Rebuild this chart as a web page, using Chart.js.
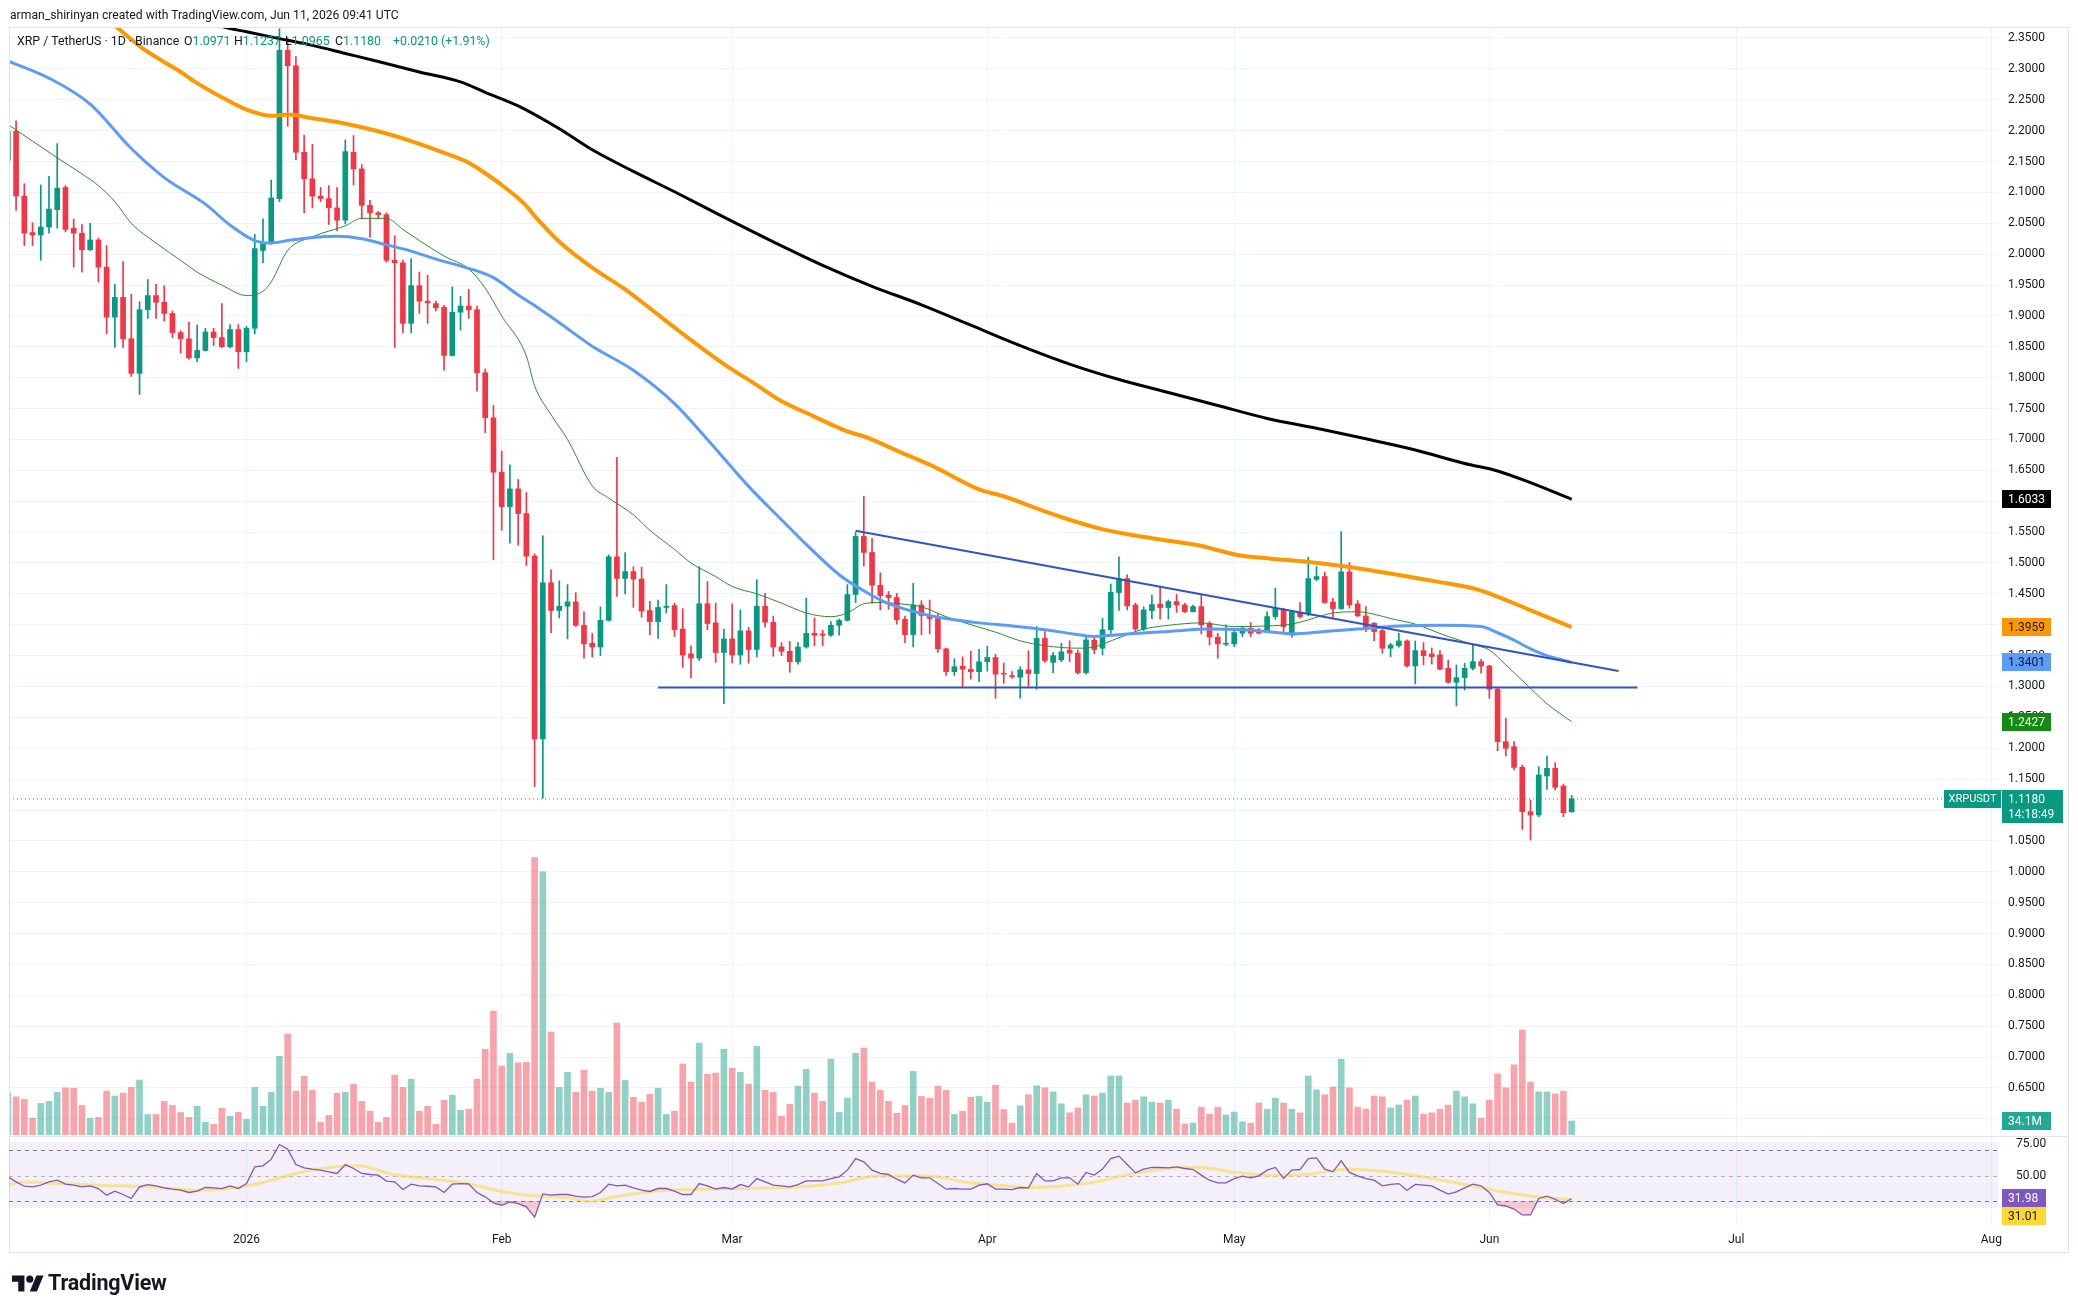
<!DOCTYPE html>
<html>
<head>
<meta charset="utf-8">
<script src="https://cdn.jsdelivr.net/npm/chart.js"></script>
<style>
  html, body { margin: 0; padding: 0; background: #fff; }
  #wrap { position: relative; width: 2078px; height: 1314px; overflow: hidden; font-family: Roboto, "Noto Sans", sans-serif; color: #131722; }
  canvas { position: absolute; left: 0; top: 0; }
  .txt { position: absolute; white-space: nowrap; transform-origin: 0 0; }
  .lg { font-size: 13px; transform: scaleX(0.95); top: 33px; }
  .g { color: #089981; }
</style>
</head>
<body>
<div id="wrap">
  <canvas id="price" width="2078" height="1314"></canvas>
  <canvas id="rsi" width="2078" height="1314"></canvas>

  <div class="txt" style="left:10px;top:7px;font-size:13px;transform:scaleX(0.935)">arman_shirinyan created with TradingView.com, Jun 11, 2026 09:41 UTC</div>
  <div class="txt lg" style="left:17px">XRP / TetherUS · 1D · Binance</div>
  <div class="txt lg" style="left:184px">O<span class="g">1.0971</span></div>
  <div class="txt lg" style="left:234px">H<span class="g">1.1237</span></div>
  <div class="txt lg" style="left:285px">L<span class="g">1.0965</span></div>
  <div class="txt lg" style="left:335px">C<span class="g">1.1180</span></div>
  <div class="txt lg g" style="left:393px">+0.0210 (+1.91%)</div>

  <svg style="position:absolute;left:12px;top:1272px" width="32" height="25" viewBox="0 0 36 28">
    <path d="M14 22H7V11H0V4h14v18zM28 22h-8l7.5-18h8L28 22z" fill="#131722"/>
    <circle cx="20" cy="8" r="4" fill="#131722"/>
  </svg>
  <div class="txt" style="left:48px;top:1270px;font-size:21.5px;font-weight:bold;letter-spacing:-0.2px">TradingView</div>
</div>

<script>
// day index: 0 = 1 Jan 2026, first candle = 3 Dec 2025
const firstDay = -29;

// [open, high, low, close]
const candles = [
  [2.152,2.218,2.142,2.199],[2.199,2.216,2.071,2.094],[2.094,2.114,2.014,2.034],[2.035,2.051,2.014,2.031],
  [2.031,2.112,1.990,2.044],[2.044,2.126,2.034,2.073],[2.072,2.179,2.042,2.107],[2.108,2.111,2.036,2.040],
  [2.042,2.057,1.979,2.034],[2.034,2.048,1.971,2.007],[2.007,2.050,2.006,2.023],[2.023,2.026,1.955,1.979],
  [1.979,2.014,1.871,1.898],[1.898,1.951,1.849,1.930],[1.930,1.988,1.849,1.863],[1.863,1.935,1.802,1.807],
  [1.807,1.923,1.773,1.910],[1.910,1.959,1.896,1.933],[1.933,1.951,1.896,1.922],[1.922,1.949,1.892,1.904],
  [1.904,1.908,1.865,1.873],[1.873,1.876,1.840,1.863],[1.863,1.890,1.830,1.832],[1.832,1.885,1.826,1.844],
  [1.844,1.880,1.843,1.874],[1.874,1.880,1.852,1.865],[1.865,1.920,1.849,1.850],[1.850,1.886,1.848,1.878],
  [1.878,1.886,1.815,1.842],[1.842,1.883,1.826,1.880],
  // January
  [1.880,2.032,1.871,2.009],[2.006,2.057,1.986,2.018],[2.018,2.120,2.016,2.091],[2.090,2.365,2.085,2.330],
  [2.330,2.350,2.207,2.305],[2.305,2.320,2.153,2.165],[2.165,2.193,2.067,2.122],[2.122,2.178,2.075,2.094],
  [2.094,2.108,2.085,2.090],[2.090,2.111,2.048,2.075],[2.075,2.108,2.038,2.055],[2.055,2.185,2.049,2.166],
  [2.165,2.192,2.112,2.138],[2.138,2.145,2.057,2.079],[2.079,2.087,2.027,2.067],[2.067,2.069,2.057,2.064],
  [2.064,2.067,1.987,1.990],[1.990,2.030,1.849,1.986],[1.986,1.990,1.873,1.888],[1.888,1.993,1.873,1.949],
  [1.949,1.971,1.904,1.924],[1.924,1.966,1.888,1.921],[1.920,1.924,1.908,1.913],[1.914,1.917,1.812,1.836],
  [1.836,1.947,1.835,1.906],[1.906,1.932,1.877,1.916],[1.916,1.943,1.896,1.910],[1.910,1.916,1.778,1.808],
  [1.808,1.814,1.711,1.735],[1.735,1.755,1.505,1.647],
  // February
  [1.647,1.681,1.553,1.591],[1.591,1.659,1.532,1.620],[1.620,1.635,1.529,1.580],[1.580,1.614,1.496,1.511],
  [1.511,1.515,1.138,1.215],[1.215,1.544,1.119,1.468],[1.468,1.489,1.387,1.423],[1.423,1.471,1.411,1.430],
  [1.430,1.465,1.377,1.437],[1.437,1.452,1.397,1.399],[1.399,1.421,1.346,1.369],[1.370,1.386,1.348,1.364],
  [1.364,1.429,1.350,1.407],[1.407,1.513,1.406,1.510],[1.510,1.671,1.446,1.475],[1.475,1.517,1.450,1.486],
  [1.486,1.494,1.428,1.474],[1.474,1.493,1.412,1.422],[1.423,1.438,1.384,1.405],[1.405,1.440,1.378,1.428],
  [1.428,1.465,1.419,1.430],[1.431,1.435,1.381,1.392],[1.393,1.426,1.331,1.351],[1.353,1.366,1.314,1.346],
  [1.346,1.494,1.342,1.434],[1.434,1.470,1.392,1.402],[1.403,1.435,1.339,1.355],[1.355,1.393,1.272,1.377],
  // March
  [1.377,1.434,1.338,1.351],[1.351,1.424,1.336,1.390],[1.390,1.396,1.338,1.360],[1.360,1.473,1.348,1.430],
  [1.430,1.451,1.396,1.404],[1.404,1.414,1.349,1.364],[1.364,1.371,1.350,1.357],[1.357,1.373,1.323,1.340],
  [1.340,1.371,1.336,1.364],[1.364,1.443,1.362,1.386],[1.386,1.411,1.366,1.383],[1.385,1.391,1.366,1.383],
  [1.383,1.405,1.381,1.399],[1.399,1.409,1.383,1.407],[1.407,1.465,1.406,1.449],[1.449,1.550,1.436,1.543],
  [1.543,1.608,1.495,1.517],[1.517,1.540,1.435,1.464],[1.464,1.484,1.424,1.447],[1.448,1.454,1.425,1.444],
  [1.444,1.451,1.401,1.408],[1.409,1.414,1.371,1.384],[1.384,1.467,1.364,1.432],[1.432,1.439,1.384,1.415],
  [1.415,1.440,1.385,1.410],[1.410,1.418,1.355,1.361],[1.361,1.362,1.318,1.324],[1.324,1.345,1.318,1.332],
  [1.333,1.348,1.298,1.328],[1.328,1.357,1.312,1.324],[1.324,1.360,1.308,1.340],
  // April
  [1.340,1.365,1.325,1.347],[1.347,1.352,1.281,1.320],[1.3205,1.338,1.305,1.3200],[1.3176,1.324,1.313,1.3160],
  [1.315,1.332,1.281,1.327],[1.327,1.358,1.300,1.321],[1.321,1.397,1.2955,1.378],[1.378,1.389,1.339,1.342],
  [1.339,1.355,1.3225,1.350],[1.343,1.370,1.340,1.356],[1.359,1.374,1.340,1.354],[1.354,1.359,1.320,1.3225],
  [1.3225,1.380,1.320,1.3754],[1.375,1.381,1.353,1.360],[1.362,1.4105,1.351,1.392],[1.392,1.466,1.386,1.4526],
  [1.4521,1.510,1.423,1.4747],[1.4747,1.481,1.424,1.4305],[1.432,1.435,1.3905,1.393],[1.393,1.429,1.3905,1.424],
  [1.423,1.448,1.410,1.4326],[1.4332,1.462,1.409,1.4278],[1.4278,1.440,1.409,1.4375],[1.4375,1.449,1.420,1.432],
  [1.432,1.4348,1.4197,1.421],[1.421,1.432,1.4207,1.4294],[1.4294,1.448,1.385,1.3997],[1.4013,1.405,1.3673,1.380],
  [1.380,1.386,1.3457,1.369],[1.3684,1.400,1.366,1.3690],
  // May
  [1.3689,1.389,1.3646,1.3873],[1.3862,1.397,1.3808,1.3943],[1.3943,1.4035,1.3808,1.3862],[1.3905,1.3943,1.3851,1.3862],
  [1.3878,1.421,1.3878,1.4132],[1.4132,1.4591,1.4089,1.4267],[1.4251,1.4267,1.3862,1.397],[1.3835,1.4229,1.3797,1.4207],
  [1.4186,1.4359,1.4105,1.4132],[1.4186,1.5093,1.4143,1.4747],[1.4736,1.4942,1.4715,1.478],[1.478,1.4855,1.4348,1.4359],
  [1.4369,1.4429,1.4121,1.4261],[1.4261,1.5509,1.4251,1.4855],[1.4855,1.5006,1.4267,1.4321],[1.4337,1.4391,1.4132,1.4143],
  [1.4143,1.4294,1.3889,1.3927],[1.4024,1.4035,1.3743,1.3889],[1.3905,1.3927,1.3538,1.3619],[1.3619,1.3700,1.3484,1.3673],
  [1.3662,1.3862,1.3635,1.3738],[1.3738,1.3754,1.3311,1.3333],[1.3333,1.3738,1.3041,1.3581],[1.3581,1.3711,1.3349,1.3500],
  [1.3527,1.3624,1.3365,1.3484],[1.3511,1.3581,1.3268,1.3279],[1.3295,1.3430,1.3052,1.3068],[1.3068,1.3349,1.2685,1.3144],
  [1.3144,1.3376,1.2944,1.3295],[1.3295,1.3673,1.3268,1.3403],[1.3403,1.3441,1.3214,1.3333],
  // June
  [1.3333,1.3343,1.2809,1.2955],[1.2955,1.2971,1.1961,1.2107],[1.2107,1.2485,1.1875,1.1999],[1.2026,1.2107,1.1648,1.1691],
  [1.1691,1.1729,1.0687,1.0973],[1.0973,1.1162,1.0514,1.0919],[1.0919,1.1702,1.0892,1.1567],[1.1551,1.1875,1.1335,1.1675],
  [1.1675,1.1767,1.1324,1.1367],[1.1389,1.1421,1.0892,1.0957],[1.0971,1.1237,1.0965,1.1180]
];

// volume, millions of XRP
const volumes = [
  102,93,87,41,77,82,104,115,114,72, 41,43,107,95,102,116,134,50,50,82, 72,55,43,70,31,26,65,46,55,38,
  116,70,104,192,246,107,143,109,31,48, 102,104,124,82,58,31,43,146,116,136, 58,70,26,85,97,60,63,136,209,302,
  168,199,176,177,676,641,251,116,153,104, 158,107,114,104,273,133,92,80,99,114, 50,58,173,129,224,148,151,209,163,153,
  124,216,109,104,46,75,119,160,102,82, 185,55,90,199,212,129,109,82,53,72, 155,94,90,119,109,50,58,92,94,80,
  121,62,29,71,98,120,115,105,76,54, 66,98,95,102,144,144,78,85,93,80, 78,85,63,27,29,68,51,68,49,56,
  32,29,78,63,90,78,63,54,144,110, 98,117,185,115,68,63,95,93,66,73, 85,95,51,54,63,73,107,93,76,41,
  85,149,115,171,256,129,105,105,100,107,34.1
];

// moving averages [day, value]
const ma20 = [[-29,2.21],[-26,2.183],[-23,2.156],[-20,2.13],[-18,2.111],[-16,2.085],[-14,2.05],[-11,2.018],[-8,1.99],
  [-6,1.971],[-3,1.95],[0,1.933],[2,1.94],[3,1.955],[5,2.006],[8,2.028],[12,2.046],[14,2.058],[17,2.058],[19,2.04],
  [21,2.022],[24,1.997],[27,1.976],[29,1.945],[31,1.9],[34,1.835],[35,1.787],[37,1.74],[39,1.7],[42,1.625],[44,1.605],
  [47,1.578],[49,1.553],[52,1.522],[54,1.5],[57,1.478],[59,1.462],[62,1.45],[65,1.435],[68,1.419],[71,1.413],[73,1.419],
  [75,1.434],[77,1.436],[80,1.433],[82,1.429],[85,1.413],[88,1.4],[91,1.388],[94,1.374],[97,1.366],[101,1.362],[103,1.364],
  [106,1.379],[109,1.393],[112,1.399],[116,1.403],[120,1.397],[124,1.398],[127,1.401],[129,1.408],[132,1.419],[135,1.421],
  [137,1.417],[139,1.41],[142,1.401],[144,1.391],[146,1.381],[149,1.368],[151,1.359],[153,1.335],[156,1.297],[158,1.272],[161,1.243]];
const ma50 = [[-29,2.313],[-24,2.285],[-19,2.243],[-14,2.171],[-10,2.124],[-5,2.081],[-2,2.047],[1,2.022],[3,2.018],[5,2.022],
  [8,2.027],[11,2.029],[14,2.025],[17,2.015],[20,2.005],[23,1.992],[27,1.977],[30,1.962],[33,1.934],[35,1.917],[38,1.889],
  [42,1.851],[47,1.812],[52,1.758],[56,1.700],[61,1.624],[65,1.570],[68,1.530],[72,1.481],[75,1.455],[78,1.434],[82,1.418],
  [85,1.410],[89,1.403],[93,1.398],[97,1.392],[100,1.386],[103,1.381],[107,1.385],[112,1.389],[117,1.393],[121,1.392],
  [124,1.389],[127,1.385],[131,1.389],[135,1.393],[140,1.398],[145,1.399],[150,1.397],[152,1.387],[154,1.375],[156,1.361],
  [158,1.350],[161,1.339]];
const ma100 = [[-19,2.40],[-16,2.370],[-13,2.337],[-10.75,2.317],[-8,2.295],[-6,2.277],[-3,2.254],[0,2.234],[3,2.224],[5,2.226],
  [8,2.220],[11,2.214],[16,2.199],[20,2.183],[24,2.164],[27,2.148],[29,2.131],[31,2.112],[33.8,2.081],[35,2.062],[38,2.02],
  [42,1.978],[46,1.943],[50,1.902],[52.5,1.876],[58,1.822],[62,1.788],[64.75,1.764],[69,1.737],[73,1.713],[75.2,1.704],
  [79,1.682],[83.5,1.656],[89,1.619],[92,1.608],[96.5,1.586],[100,1.570],[104.2,1.554],[110,1.540],[115.5,1.529],
  [120.4,1.513],[124.5,1.507],[128.8,1.502],[134.2,1.493],[138,1.485],[141.1,1.478],[145,1.469],[149,1.459],[151.5,1.448],
  [155.9,1.424],[161,1.396]];
const ma200 = [[-6,2.385],[-3,2.369],[0,2.360],[4,2.349],[8,2.338],[12,2.325],[16,2.312],[21,2.295],[26,2.279],[29,2.262],
  [33,2.240],[38,2.203],[42,2.169],[47,2.134],[52,2.101],[58,2.060],[64,2.020],[70,1.982],[76,1.948],[82,1.918],[88,1.885],
  [94,1.852],[100,1.822],[106,1.797],[112,1.776],[118,1.755],[124,1.734],[130,1.718],[136,1.701],[142,1.683],[148,1.661],
  [152,1.649],[156,1.630],[161,1.603]];

// drawn lines
const trendLine = [[74,1.552],[166.7,1.325]];
const supportLine = [[50,1.2985],[169,1.2985]];
const lastPrice = 1.1180;

// RSI per day, and its moving average
const rsiValues = [
  49,45,41.6,41.1,42.4,45,46.3,43.2,42.4,41.1, 41.9,39.8,34.6,37.7,35.1,32,41.1,42.9,41.9,40.3, 39.3,38.5,36.7,37.7,40.6,40.3,39.8,41.9,39.8,43.7,
  56.8,57.6,62.8,74.3,70.7,58.6,56,55,54.2,52.9, 51.6,58.6,55.5,51.6,50.8,50.3,45.6,45,39,43.2, 41.9,41.6,41.1,36.7,43.2,43.7,43.5,36.7,33.3,28.6,
  26.7,29.3,28,25.4,17.3,35.6,34.6,35.1,35.1,33.8, 33,33.5,36.7,43.2,41.9,42.4,40.3,38.5,37.5,39.8, 39.8,37.7,35.1,35.1,43.7,41.9,39.3,40.6,39.3,42.9,
  41.1,47.6,45,42.4,41.9,41.1,42.9,45.8,45.8,45.8, 47.6,49,54.2,63.3,60.7,54.2,51.6,50.8,47.1,44.2, 50.3,48.2,48.2,43.7,39.3,39.8,39.3,39.3,42.4,43.5,
  39.3,39.3,39,40.6,40.3,51.6,45.8,45.8,48.2,48.2, 43.2,52.4,50.3,55,63.3,65.2,58.6,52.1,55,56.3, 56.3,56,56.8,55.5,54.7,50.3,46.3,44.2,44.2,47.6,
  49.5,48.2,49.7,54.2,56.3,47.6,54.2,54.7,63.3,63.8, 55,52.9,61.5,52.4,49.7,47.6,46.3,41.9,43,43.7, 38.5,43,42.5,41.9,38.5,35.4,37.2,40.3,43.2,41.9,
  36.7,26.9,26.1,23.7,19.1,19.1,32,33.8,31.4,28,31.98
];
const rsiMa = [[-29,42.9],[-27,45],[-23,43.7],[-18,42.4],[-12,41.1],[-6,38.5],[-2,39.8],[1.5,43.7],[5.5,50.8],[9.6,56],
  [13.7,57.6],[17.8,50.8],[22.7,47.1],[26.8,43.7],[31.6,36.7],[34.9,34.1],[39,32.5],[41.8,29.9],[44.7,33.3],[49.6,37.7],
  [55.3,39.3],[59.4,39.8],[67.5,41.1],[72.4,44.5],[76.5,49.7],[83,49.7],[87.1,45],[91.8,42.1],[95.5,40.6],[99.4,41.9],
  [103.2,45],[107.1,50.8],[111.8,55.5],[115.6,56.3],[120.3,52.4],[124.2,50.3],[128.8,50.8],[133.5,55],[138.1,53.4],
  [142.8,49],[147.4,43.7],[152.1,37.7],[156.7,33.3],[161,31.01]];

// axes
const monthTicks = [0, 31, 59, 90, 120, 151, 181, 212];
const monthLabels = ['2026', 'Feb', 'Mar', 'Apr', 'May', 'Jun', 'Jul', 'Aug'];
const priceTicks = [2.35,2.30,2.25,2.20,2.15,2.10,2.05,2.00,1.95,1.90,1.85,1.80,1.75,1.70,1.65,1.60,1.55,1.50,1.45,
  1.40,1.35,1.30,1.25,1.20,1.15,1.10,1.05,1.00,0.95,0.90,0.85,0.80,0.75,0.70,0.65,0.60];
const rsiTicks = [75, 50];

// ---- styling ----
Chart.defaults.font.family = 'Roboto, "Noto Sans", sans-serif';
const gridColor = '#f0f3fa';
const upColor = '#089981', downColor = '#f23645';
const xMin = -28.86, xMax = 212.8;

const days = candles.map((c, i) => firstDay + i);
const isUp = candles.map(c => c[3] >= c[0]);
const pts = arr => arr.map(([x, y]) => ({ x, y }));

function lineSet(data, color, width, order) {
  return { type: 'line', yAxisID: 'y', data: pts(data), borderColor: color, borderWidth: width,
    pointRadius: 0, cubicInterpolationMode: 'monotone', order: order };
}

function tag(ctx, y, text, bg, fg, x, w, h) {
  x = x || 2002; w = w || 49; h = h || 18;
  ctx.fillStyle = bg;
  ctx.fillRect(x, Math.round(y - h / 2), w, h);
  ctx.fillStyle = fg;
  ctx.font = '12px Roboto, "Noto Sans", sans-serif';
  ctx.textAlign = 'left';
  ctx.textBaseline = 'middle';
  ctx.fillText(text, x + 6, Math.round(y) + 0.5);
}

const priceOverlay = {
  id: 'priceOverlay',
  afterDraw(chart) {
    const ctx = chart.ctx, y = chart.scales.y, yv = chart.scales.yv;
    ctx.save();
    ctx.strokeStyle = '#e0e3eb';
    ctx.lineWidth = 1;
    ctx.strokeRect(9.5, 27.5, 2059, 1225);
    ctx.beginPath(); ctx.moveTo(9, 1136.5); ctx.lineTo(2068, 1136.5); ctx.stroke();

    tag(ctx, y.getPixelForValue(1.6033), '1.6033', '#000000', '#ffffff');
    tag(ctx, y.getPixelForValue(1.3959), '1.3959', '#ff9800', '#131722');
    tag(ctx, y.getPixelForValue(1.3401), '1.3401', '#5b9cf6', '#131722');
    tag(ctx, y.getPixelForValue(1.2427), '1.2427', '#138a13', '#ffffff');

    const py = y.getPixelForValue(lastPrice);
    ctx.fillStyle = upColor;
    ctx.fillRect(2002, Math.round(py - 9), 61, 33);
    ctx.fillRect(1944, Math.round(py - 9), 57, 18);
    ctx.fillStyle = '#ffffff';
    ctx.font = '12px Roboto, "Noto Sans", sans-serif';
    ctx.textBaseline = 'middle';
    ctx.textAlign = 'left';
    ctx.fillText('1.1180', 2008, Math.round(py) + 0.5);
    ctx.fillText('14:18:49', 2008, Math.round(py) + 15.5);
    ctx.font = '11px Roboto, "Noto Sans", sans-serif';
    ctx.textAlign = 'center';
    ctx.fillText('XRPUSDT', 1972.5, Math.round(py) + 0.5);

    tag(ctx, yv.getPixelForValue(34.1), '34.1M', '#22ab94', '#ffffff');
    ctx.restore();
  }
};

new Chart(document.getElementById('price'), {
  type: 'bar',
  data: {
    datasets: [
      { type: 'bar', yAxisID: 'yv', order: 10, grouped: false, barThickness: 6,
        data: volumes.map((v, i) => ({ x: days[i], y: v })),
        backgroundColor: isUp.map(u => u ? 'rgba(8,153,129,0.45)' : 'rgba(242,54,69,0.45)') },
      { type: 'bar', yAxisID: 'y', order: 6, grouped: false, barThickness: 1,
        data: candles.map((c, i) => ({ x: days[i], y: [c[2], c[1]] })),
        backgroundColor: isUp.map(u => u ? upColor : downColor) },
      { type: 'bar', yAxisID: 'y', order: 5, grouped: false, barThickness: 5, minBarLength: 1,
        data: candles.map((c, i) => ({ x: days[i], y: [c[0], c[3]] })),
        backgroundColor: isUp.map(u => u ? upColor : downColor) },
      lineSet(ma200, '#000000', 3, 4),
      lineSet(ma100, '#ff9800', 4, 4),
      lineSet(ma50, '#5b9cf6', 3, 3),
      lineSet(ma20, '#2e8b2e', 1, 3),
      { type: 'line', yAxisID: 'y', data: pts(trendLine), borderColor: '#2f55c4', borderWidth: 2, pointRadius: 0, order: 1 },
      { type: 'line', yAxisID: 'y', data: pts(supportLine), borderColor: '#2f55c4', borderWidth: 2, pointRadius: 0, order: 1 },
      { type: 'line', yAxisID: 'y', data: [{ x: xMin, y: lastPrice }, { x: xMax, y: lastPrice }],
        borderColor: upColor, borderWidth: 1, borderDash: [1, 3], pointRadius: 0, order: 2 }
    ]
  },
  options: {
    responsive: false, animation: false, devicePixelRatio: 1,
    layout: { padding: { left: 9, right: 10, top: 27, bottom: 179 } },
    plugins: { legend: { display: false }, tooltip: { enabled: false } },
    scales: {
      x: { type: 'linear', min: xMin, max: xMax, offset: false,
        afterBuildTicks: s => { s.ticks = monthTicks.map(v => ({ value: v })); },
        afterFit: s => { s.height = 0; },
        ticks: { display: false, autoSkip: false },
        grid: { color: gridColor, drawTicks: false, offset: false },
        border: { display: false } },
      y: { position: 'right', min: 0.5738, max: 2.3678,
        afterBuildTicks: s => { s.ticks = priceTicks.map(v => ({ value: v })); },
        afterFit: s => { s.width = 70; },
        ticks: { color: '#131722', font: { size: 12 }, padding: 10, autoSkip: false,
          callback: v => v < 0.62 ? '' : Number(v).toFixed(4) },
        grid: { color: gridColor, drawTicks: false },
        border: { display: false } },
      yv: { display: false, min: 0, max: 2700 }
    }
  },
  plugins: [priceOverlay]
});

// ---- RSI pane ----
const rsiOverlay = {
  id: 'rsiOverlay',
  beforeDatasetsDraw(chart) {
    const ctx = chart.ctx, y = chart.scales.y, a = chart.chartArea;
    ctx.save();
    const top = y.getPixelForValue(76.3), bot = y.getPixelForValue(24.5);
    ctx.fillStyle = 'rgba(126,87,194,0.09)';
    ctx.fillRect(a.left, top, a.right - a.left, bot - top);
    ctx.lineWidth = 1;
    ctx.setLineDash([4, 4]);
    [[70, '#787b86'], [50, '#b2b5be'], [30, '#787b86']].forEach(([v, c]) => {
      const py = Math.round(y.getPixelForValue(v)) + 0.5;
      ctx.strokeStyle = c;
      ctx.beginPath(); ctx.moveTo(a.left, py); ctx.lineTo(a.right, py); ctx.stroke();
    });
    ctx.restore();
  },
  afterDraw(chart) {
    const ctx = chart.ctx, y = chart.scales.y;
    ctx.save();
    const py = y.getPixelForValue(31.98);
    tag(ctx, py, '31.98', '#7e57c2', '#ffffff', 2002, 44, 18);
    tag(ctx, py + 18, '31.01', '#fdd835', '#131722', 2002, 44, 18);
    ctx.restore();
  }
};

new Chart(document.getElementById('rsi'), {
  type: 'line',
  data: {
    datasets: [
      { data: pts(rsiMa), borderColor: 'rgba(251,216,80,0.6)', borderWidth: 3, pointRadius: 0,
        cubicInterpolationMode: 'monotone', order: 2 },
      { data: rsiValues.map((v, i) => ({ x: days[i], y: v })), borderColor: '#7e57c2', borderWidth: 1.3,
        pointRadius: 0, order: 1,
        fill: { target: { value: 30 }, above: 'rgba(0,0,0,0)', below: 'rgba(242,54,69,0.22)' } }
    ]
  },
  options: {
    responsive: false, animation: false, devicePixelRatio: 1,
    layout: { padding: { left: 9, right: 10, top: 1137, bottom: 62 } },
    plugins: { legend: { display: false }, tooltip: { enabled: false } },
    scales: {
      x: { type: 'linear', min: xMin, max: xMax, offset: false,
        afterBuildTicks: s => { s.ticks = monthTicks.map(v => ({ value: v })); },
        afterFit: s => { s.height = 27; },
        ticks: { color: '#131722', font: { size: 12 }, padding: 8, maxRotation: 0, autoSkip: false,
          callback: v => monthLabels[monthTicks.indexOf(v)] },
        grid: { color: gridColor, drawTicks: false, offset: false },
        border: { display: false } },
      y: { position: 'right', min: 11.2, max: 80.2,
        afterBuildTicks: s => { s.ticks = rsiTicks.map(v => ({ value: v })); },
        afterFit: s => { s.width = 70; },
        ticks: { color: '#131722', font: { size: 12 }, padding: 10, autoSkip: false,
          callback: v => Number(v).toFixed(2) },
        grid: { display: false },
        border: { display: false } }
    }
  },
  plugins: [rsiOverlay]
});
</script>
</body>
</html>
